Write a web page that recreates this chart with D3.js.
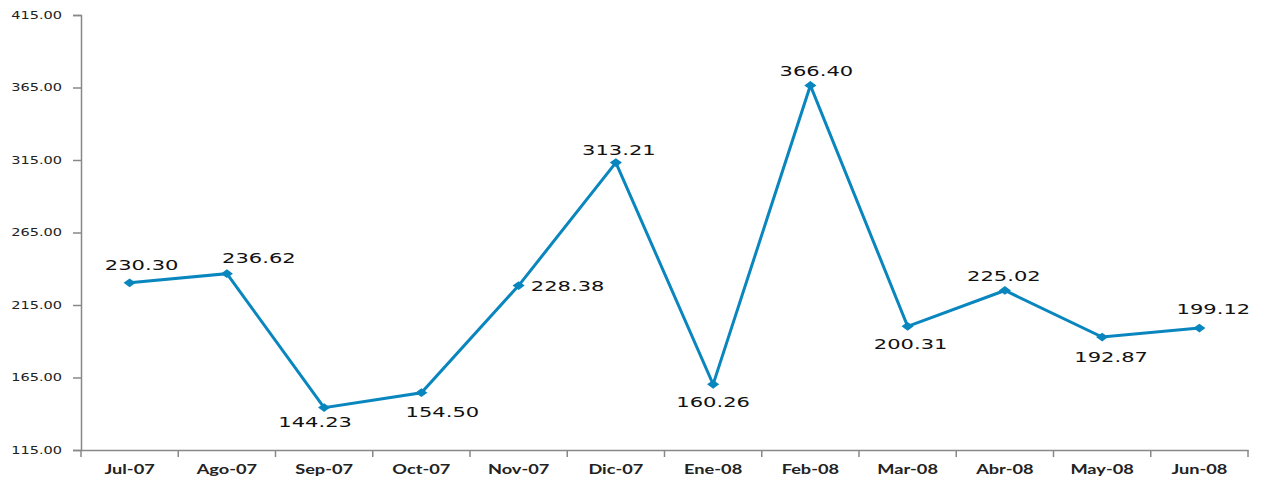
<!DOCTYPE html>
<html>
<head>
<meta charset="utf-8">
<script src="https://cdn.jsdelivr.net/npm/d3@7"></script>
<style>
    body { margin: 0; background: #fff; }
    svg { display: block; }
</style>
</head>
<body>
<div id="chart"></div>
<script>
//data
var months = ['Jul-07', 'Ago-07', 'Sep-07', 'Oct-07', 'Nov-07', 'Dic-07', 'Ene-08', 'Feb-08', 'Mar-08', 'Abr-08', 'May-08', 'Jun-08'];
var values = [230.30, 236.62, 144.23, 154.50, 228.38, 313.21, 160.26, 366.40, 200.31, 225.02, 192.87, 199.12];
var y_ticks = [115, 165, 215, 265, 315, 365, 415];

//label placement relative to point (dx, dy)
var label_offsets = [[12, -18], [32, -16], [-9, 14], [21, 19], [49, 0], [3, -13], [0, 17], [6, -15], [3, 17], [-1, -15], [9, 20], [14, -19]];

var width = 1272;
var height = 482;
var padding = {'top': 15, 'right': 24, 'bottom': 32, 'left': 81};

//the original picture is stretched sideways, so the text is too
var stretch = 1.45;

function widen(selection, factor){
    selection.each(function(){
        var len = this.getComputedTextLength();
        d3.select(this)
            .attr('textLength', len * factor)
            .attr('lengthAdjust', 'spacingAndGlyphs');
    });
}

var svg = d3.select('#chart')
    .append('svg')
    .attr('width', width)
    .attr('height', height);

var x = d3.scaleBand()
    .domain(months)
    .range([padding.left, width - padding.right])
    .padding(0);

var y = d3.scaleLinear()
    .domain([115, 415])
    .range([height - padding.bottom, padding.top]);

//y axis
var y_axis = svg.append('g')
    .attr('transform', 'translate(' + padding.left + ',0)')
    .call(d3.axisLeft(y)
        .tickValues(y_ticks)
        .tickSize(8)
        .tickPadding(11)
        .tickFormat(d3.format('.2f')));

y_axis.selectAll('text')
    .style('font-family', 'DejaVu Sans, Verdana, sans-serif')
    .style('font-size', '10px')
    .style('fill', '#222')
    .call(widen, stretch);

//x axis
var x_axis = svg.append('g')
    .attr('transform', 'translate(0,' + (height - padding.bottom) + ')')
    .call(d3.axisBottom(x).tickSize(0).tickPadding(15));

x_axis.selectAll('text')
    .style('font-family', 'Lato, Open Sans, sans-serif')
    .style('font-weight', 'bold')
    .style('font-size', '13px')
    .style('fill', '#222')
    .call(widen, 1.4);

//band boundary ticks
x_axis.selectAll('.bound')
    .data(months.concat(['end']))
    .enter()
    .append('line')
    .attr('class', 'bound')
    .attr('x1', function(d, i){ return padding.left + i * x.bandwidth(); })
    .attr('x2', function(d, i){ return padding.left + i * x.bandwidth(); })
    .attr('y1', 0)
    .attr('y2', 7);

svg.selectAll('.domain, .tick line, .bound')
    .style('stroke', '#888')
    .style('stroke-width', 1.5);

//line
var line = d3.line()
    .x(function(d, i){ return x(months[i]) + x.bandwidth() / 2; })
    .y(function(d){ return y(d); });

svg.append('path')
    .datum(values)
    .attr('d', line)
    .style('fill', 'none')
    .style('stroke', '#0a86be')
    .style('stroke-width', 3);

//markers
svg.selectAll('.marker')
    .data(values)
    .enter()
    .append('path')
    .attr('class', 'marker')
    .attr('d', d3.symbol().type(d3.symbolDiamond2).size(60))
    .attr('transform', function(d, i){
        return 'translate(' + (x(months[i]) + x.bandwidth() / 2) + ',' + y(d) + ') scale(1.25,0.9)';
    })
    .style('fill', '#0a86be');

//data labels
svg.selectAll('.label')
    .data(values)
    .enter()
    .append('text')
    .attr('class', 'label')
    .attr('x', function(d, i){ return x(months[i]) + x.bandwidth() / 2 + label_offsets[i][0]; })
    .attr('y', function(d, i){ return y(d) + label_offsets[i][1]; })
    .attr('dy', '0.36em')
    .attr('text-anchor', 'middle')
    .style('font-family', 'DejaVu Sans, Verdana, sans-serif')
    .style('font-size', '14.5px')
    .style('fill', '#111')
    .text(function(d){ return d3.format('.2f')(d); })
    .call(widen, stretch);
</script>
</body>
</html>
